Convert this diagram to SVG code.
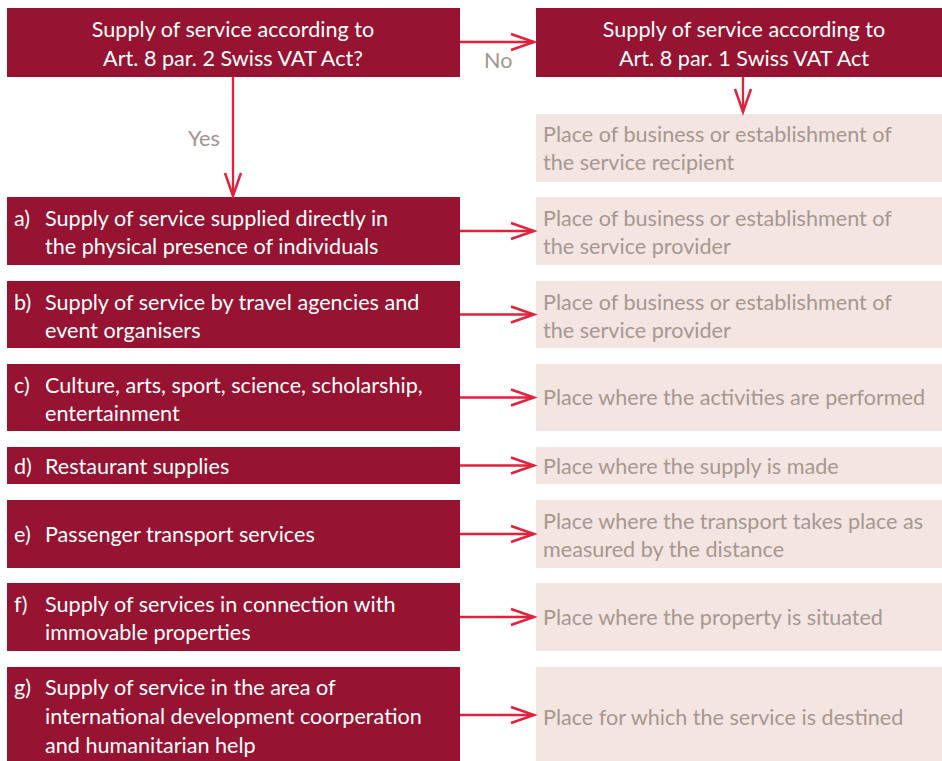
<svg xmlns="http://www.w3.org/2000/svg" width="942" height="761" viewBox="0 0 942 761">
  <defs>
    <style>
      .q { fill: #961331; }
      .res { fill: #f2e5e2; }
      text { font-family: Lato, "Open Sans", sans-serif; font-size: 21.6px; }
      .w { fill: #ffffff; }
      .g { fill: #a8978f; }
      .lbl { fill: #a2948e; }
      .mid { text-anchor: middle; }
      .conn { stroke: #e2213d; stroke-width: 2.3; fill: none; }
    </style>
    <marker id="chev" markerUnits="userSpaceOnUse" markerWidth="30" markerHeight="22" viewBox="-26 -11 30 22" refX="0" refY="0" orient="auto">
      <path d="M-23,-8 L0,0 L-23,8" stroke="#e2213d" stroke-width="2.5" fill="none"/>
    </marker>
  </defs>
  <rect width="942" height="761" fill="#ffffff"/>

  <!-- decision -->
  <g id="q-art8-2">
    <rect class="q" x="7" y="8" width="453" height="69"/>
    <text class="w mid" x="233" y="37">Supply of service according to</text>
    <text class="w mid" x="233" y="66">Art. 8 par. 2 Swiss VAT Act?</text>
  </g>
  <g id="q-art8-1">
    <rect class="q" x="536" y="8" width="406" height="69"/>
    <text class="w mid" x="744" y="37">Supply of service according to</text>
    <text class="w mid" x="744" y="66">Art. 8 par. 1 Swiss VAT Act</text>
  </g>
  <g id="r-recipient">
    <rect class="res" x="536" y="114" width="406" height="68"/>
    <text class="g" x="543" y="142">Place of business or establishment of</text>
    <text class="g" x="543" y="170">the service recipient</text>
  </g>

  <!-- categories a) to g) -->
  <g id="c-a">
    <rect class="q" x="7" y="197" width="453" height="68"/>
    <text class="w" x="14" y="226">a)</text>
    <text class="w" x="45" y="226">Supply of service supplied directly in</text>
    <text class="w" x="45" y="254">the physical presence of individuals</text>
  </g>
  <g id="r-a">
    <rect class="res" x="536" y="197" width="406" height="68"/>
    <text class="g" x="543" y="226">Place of business or establishment of</text>
    <text class="g" x="543" y="254">the service provider</text>
  </g>

  <g id="c-b">
    <rect class="q" x="7" y="281" width="453" height="67"/>
    <text class="w" x="14" y="310">b)</text>
    <text class="w" x="45" y="310">Supply of service by travel agencies and</text>
    <text class="w" x="45" y="338">event organisers</text>
  </g>
  <g id="r-b">
    <rect class="res" x="536" y="281" width="406" height="67"/>
    <text class="g" x="543" y="310">Place of business or establishment of</text>
    <text class="g" x="543" y="338">the service provider</text>
  </g>

  <g id="c-c">
    <rect class="q" x="7" y="364" width="453" height="67"/>
    <text class="w" x="14" y="393">c)</text>
    <text class="w" x="45" y="393">Culture, arts, sport, science, scholarship,</text>
    <text class="w" x="45" y="421">entertainment</text>
  </g>
  <g id="r-c">
    <rect class="res" x="536" y="364" width="406" height="67"/>
    <text class="g" x="543" y="405">Place where the activities are performed</text>
  </g>

  <g id="c-d">
    <rect class="q" x="7" y="447" width="453" height="37"/>
    <text class="w" x="14" y="474">d)</text>
    <text class="w" x="45" y="474">Restaurant supplies</text>
  </g>
  <g id="r-d">
    <rect class="res" x="536" y="447" width="406" height="37"/>
    <text class="g" x="543" y="474">Place where the supply is made</text>
  </g>

  <g id="c-e">
    <rect class="q" x="7" y="500" width="453" height="68"/>
    <text class="w" x="14" y="542">e)</text>
    <text class="w" x="45" y="542">Passenger transport services</text>
  </g>
  <g id="r-e">
    <rect class="res" x="536" y="500" width="406" height="68"/>
    <text class="g" x="543" y="529">Place where the transport takes place as</text>
    <text class="g" x="543" y="557">measured by the distance</text>
  </g>

  <g id="c-f">
    <rect class="q" x="7" y="583" width="453" height="68"/>
    <text class="w" x="14" y="612">f)</text>
    <text class="w" x="45" y="612">Supply of services in connection with</text>
    <text class="w" x="45" y="640">immovable properties</text>
  </g>
  <g id="r-f">
    <rect class="res" x="536" y="583" width="406" height="68"/>
    <text class="g" x="543" y="625">Place where the property is situated</text>
  </g>

  <g id="c-g">
    <rect class="q" x="7" y="667" width="453" height="100"/>
    <text class="w" x="14" y="695">g)</text>
    <text class="w" x="45" y="695">Supply of service in the area of</text>
    <text class="w" x="45" y="724">international development coorperation</text>
    <text class="w" x="45" y="753">and humanitarian help</text>
  </g>
  <g id="r-g">
    <rect class="res" x="536" y="667" width="406" height="100"/>
    <text class="g" x="543" y="725">Place for which the service is destined</text>
  </g>

  <!-- connectors -->
  <g id="connectors">
    <path class="conn" d="M460,42 H534" marker-end="url(#chev)"/>
    <path class="conn" d="M233,77 V196" marker-end="url(#chev)"/>
    <path class="conn" d="M743,77 V112" marker-end="url(#chev)"/>
    <path class="conn" d="M460,231 H534" marker-end="url(#chev)"/>
    <path class="conn" d="M460,314.5 H534" marker-end="url(#chev)"/>
    <path class="conn" d="M460,397.5 H534" marker-end="url(#chev)"/>
    <path class="conn" d="M460,465.5 H534" marker-end="url(#chev)"/>
    <path class="conn" d="M460,534 H534" marker-end="url(#chev)"/>
    <path class="conn" d="M460,617 H534" marker-end="url(#chev)"/>
    <path class="conn" d="M460,715 H534" marker-end="url(#chev)"/>
  </g>
  <text class="lbl" x="484" y="68">No</text>
  <text class="lbl" x="188" y="146">Yes</text>
</svg>
